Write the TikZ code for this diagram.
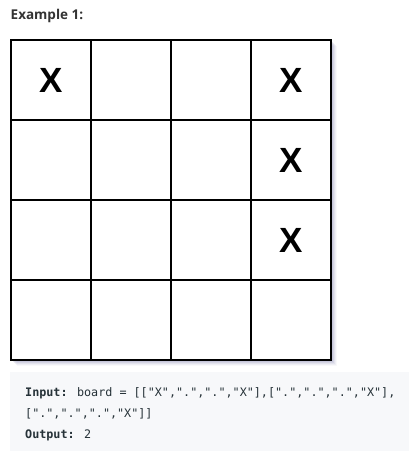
\documentclass[tikz,border=0pt]{standalone}
\usepackage{fontspec}
\newfontfamily\headfont{Open Sans}
\newfontfamily\xfont{Liberation Sans}
\newfontfamily\codefont{DejaVu Sans Mono}
\definecolor{codebg}{HTML}{F7F8FA}
\definecolor{codetxt}{HTML}{263238}
\definecolor{headtxt}{HTML}{333333}
\definecolor{shadowc}{HTML}{9090B8}
\tikzset{
  gridline/.style={line width=2pt, black},
  xmark/.style={font=\xfont\bfseries\fontsize{35}{35}\selectfont, inner sep=0pt, anchor=center},
  codeline/.style={anchor=base west, inner sep=0pt, text=codetxt, font=\codefont\fontsize{11.75}{14}\selectfont},
}
\begin{document}
\begin{tikzpicture}[x=1pt,y=-1pt]
\useasboundingbox (0,0) rectangle (409,452);
\fill[white] (0,0) rectangle (409,452);
% heading
\node[anchor=base west, inner sep=0pt, text=headtxt, font=\headfont\bfseries\fontsize{13.5}{16}\selectfont] (head) at (10.5,20) {Example 1:};
% shadow
\foreach \d/\o in {6/0.06,5/0.09,4/0.12,3/0.16,2/0.2}{
  \fill[shadowc, opacity=\o] (11+\d,40+\d) rectangle (331+\d,360+\d);
}
\fill[white] (11,40) rectangle (331,360);
% grid
\foreach \x in {11,91,171,251,331}{\draw[gridline] (\x,40) -- (\x,360);}
\foreach \y in {40,120,200,280,360}{\draw[gridline] (10,\y) -- (332,\y);}
% marks
\node[xmark] (x11) at (51,80) {X};
\node[xmark] (x14) at (291,80) {X};
\node[xmark] (x24) at (291,160) {X};
\node[xmark] (x34) at (291,240) {X};
% code box
\fill[codebg] (10,372) rectangle (409,451);
\node[codeline] (l1) at (25,396) {\textbf{Input:} board = [["X",".",".","X"],[".",".",".","X"],};
\node[codeline] (l2) at (25,417.5) {[".",".",".","X"]]};
\node[codeline] (l3) at (25,438) {\textbf{Output:} 2};
\end{tikzpicture}
\end{document}
